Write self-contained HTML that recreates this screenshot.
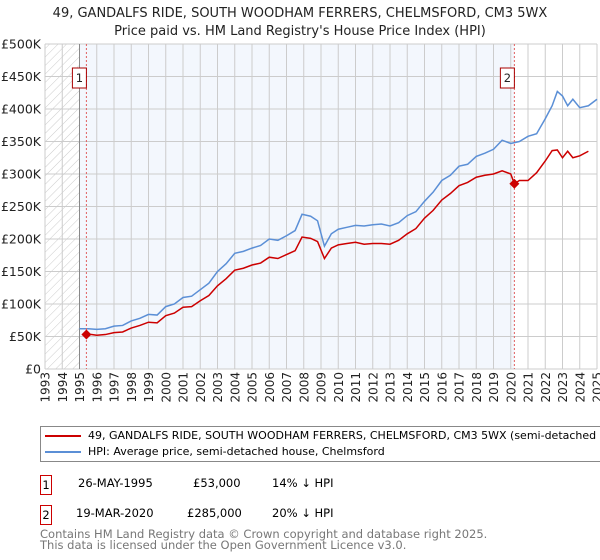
<!DOCTYPE html>
<html><head><meta charset="utf-8"><style>
body{margin:0;background:#fff;font-family:"DejaVu Sans","Liberation Sans",sans-serif;}
#wrap{position:relative;width:600px;height:560px;overflow:hidden;}
</style></head><body>
<div id="wrap">
<svg id="chart" width="600" height="420" style="position:absolute;left:0;top:0">
<text x="300" y="17" text-anchor="middle" font-size="13" fill="#222">49, GANDALFS RIDE, SOUTH WOODHAM FERRERS, CHELMSFORD, CM3 5WX</text>
<text x="300" y="35" text-anchor="middle" font-size="13" fill="#222">Price paid vs. HM Land Registry's House Price Index (HPI)</text>
<defs><pattern id="hatch" width="6" height="6" patternUnits="userSpaceOnUse" patternTransform="rotate(45)"><line x1="0" y1="0" x2="0" y2="6" stroke="#ccc" stroke-width="1"/></pattern></defs>
<g id="g"></g>
</svg>
<div style="position:absolute;left:40px;top:426px;width:600px;height:34px;border:1px solid #888;font-size:11px;">
<div style="position:absolute;left:4px;top:8px;width:36px;height:2px;background:#cc0000"></div>
<div style="position:absolute;left:47px;top:2px;white-space:nowrap">49, GANDALFS RIDE, SOUTH WOODHAM FERRERS, CHELMSFORD, CM3 5WX (semi-detached house)</div>
<div style="position:absolute;left:4px;top:24px;width:36px;height:2px;background:#5b8fd6"></div>
<div style="position:absolute;left:47px;top:18px;white-space:nowrap">HPI: Average price, semi-detached house, Chelmsford</div>
</div>
<div style="font-size:11.5px;">
<div style="position:absolute;left:40px;top:475px;width:10px;height:18px;border:1px solid #cc0000;text-align:center;line-height:18px">1</div>
<div style="position:absolute;left:78px;top:476px">26-MAY-1995</div>
<div style="position:absolute;left:193px;top:476px">£53,000</div>
<div style="position:absolute;left:272px;top:476px">14% ↓ HPI</div>
<div style="position:absolute;left:40px;top:505px;width:10px;height:18px;border:1px solid #cc0000;text-align:center;line-height:18px">2</div>
<div style="position:absolute;left:76px;top:506px">19-MAR-2020</div>
<div style="position:absolute;left:187px;top:506px">£285,000</div>
<div style="position:absolute;left:272px;top:506px">20% ↓ HPI</div>
</div>
<div style="position:absolute;left:40px;top:529px;font-size:11.5px;color:#777;line-height:11px">Contains HM Land Registry data © Crown copyright and database right 2025.<br>This data is licensed under the Open Government Licence v3.0.</div>
</div>
<script>
const years=[1993,1994,1995,1996,1997,1998,1999,2000,2001,2002,2003,2004,2005,2006,2007,2008,2009,2010,2011,2012,2013,2014,2015,2016,2017,2018,2019,2020,2021,2022,2023,2024,2025];
const yTicks=[0,50000,100000,150000,200000,250000,300000,350000,400000,450000,500000];
const yLabels=["£0","£50K","£100K","£150K","£200K","£250K","£300K","£350K","£400K","£450K","£500K"];
const hpiX=[1995.0,1995.5,1996.0,1996.5,1997.0,1997.5,1998.0,1998.5,1999.0,1999.5,2000.0,2000.5,2001.0,2001.5,2002.0,2002.5,2003.0,2003.5,2004.0,2004.5,2005.0,2005.5,2006.0,2006.5,2007.0,2007.5,2007.9,2008.4,2008.8,2009.2,2009.6,2010.0,2010.5,2011.0,2011.5,2012.0,2012.5,2013.0,2013.5,2014.0,2014.5,2015.0,2015.5,2016.0,2016.5,2017.0,2017.5,2018.0,2018.5,2019.0,2019.5,2020.0,2020.5,2021.0,2021.5,2022.0,2022.4,2022.7,2023.0,2023.3,2023.6,2024.0,2024.5,2025.0];
const hpiV=[62000,62000,61000,62000,66000,67000,74000,78000,84000,83000,96000,100000,110000,112000,122000,132000,150000,162000,178000,181000,186000,190000,200000,198000,205000,213000,238000,235000,228000,189000,208000,215000,218000,221000,220000,222000,223000,220000,225000,236000,242000,258000,272000,290000,298000,312000,315000,327000,332000,338000,352000,347000,350000,358000,362000,385000,405000,427000,420000,405000,415000,402000,405000,415000];
const ppX=[1995.4,1995.7,1996.0,1996.5,1997.0,1997.5,1998.0,1998.5,1999.0,1999.5,2000.0,2000.5,2001.0,2001.5,2002.0,2002.5,2003.0,2003.5,2004.0,2004.5,2005.0,2005.5,2006.0,2006.5,2007.0,2007.5,2007.9,2008.4,2008.8,2009.2,2009.6,2010.0,2010.5,2011.0,2011.5,2012.0,2012.5,2013.0,2013.5,2014.0,2014.5,2015.0,2015.5,2016.0,2016.5,2017.0,2017.5,2018.0,2018.5,2019.0,2019.5,2020.0,2020.21,2020.5,2021.0,2021.5,2022.0,2022.4,2022.7,2023.0,2023.3,2023.6,2024.0,2024.5,2025.0];
const ppV=[53000,53000,52000,53000,56000,57000,63000,67000,72000,71000,82000,86000,95000,96000,105000,113000,128000,139000,152000,155000,160000,163000,172000,170000,176000,182000,203000,201000,196000,170000,186000,191000,193000,195000,192000,193000,193000,192000,198000,208000,216000,232000,244000,260000,270000,282000,287000,295000,298000,300000,305000,300000,285000,290000,290000,302000,320000,336000,337000,325000,335000,325000,328000,335000];
const sales=[{x:1995.4,v:53000,l:"1"},{x:2020.21,v:285000,l:"2"}];
const X=y=>45+(y-1993)*17.25, Y=v=>369-v*0.00065;
const g=document.getElementById('g'),NS="http://www.w3.org/2000/svg";
function mk(t,a,p){const e=document.createElementNS(NS,t);for(const k in a)e.setAttribute(k,a[k]);(p||g).appendChild(e);return e;}
let r=mk('rect',{x:X(1995),y:Y(500000),width:X(2020.21)-X(1995),height:Y(0)-Y(500000),fill:'#eef3fc',opacity:0.7});


r=mk('rect',{x:X(1993),y:Y(500000),width:X(1995)-X(1993),height:Y(0)-Y(500000),fill:'url(#hatch)'});


years.forEach((yr,i)=>{
 const l=mk('line',{x1:X(yr),x2:X(yr),y1:Y(500000),y2:Y(0),stroke:'#ccc'});
 
 
 const t=mk('text',{x:0,y:0,transform:`translate(${X(yr)+4.5},${372}) rotate(-90)`,'text-anchor':'end','font-size':12,fill:'#222'});
 t.textContent=yr;
 
 
});
yTicks.forEach((v,i)=>{
 const l=mk('line',{x1:X(1993),x2:X(2025),y1:Y(v),y2:Y(v),stroke:'#ccc'});
 
 
 const t=mk('text',{x:41,y:Y(v)+4.5,'text-anchor':'end','font-size':12.5,fill:'#222'});
 t.textContent=yLabels[i];
 
 
});
let ax=mk('line',{x1:X(1995),x2:X(1995),y1:Y(500000),y2:Y(0),stroke:'#888'});


let hp=mk('polyline',{points:hpiX.map((x,i)=>X(x)+','+Y(hpiV[i])).join(' '),fill:'none',stroke:'#5b8fd6','stroke-width':1.5});


let pp=mk('polyline',{points:ppX.map((x,i)=>X(x)+','+Y(ppV[i])).join(' '),fill:'none',stroke:'#cc0000','stroke-width':1.5});


sales.forEach(s=>{
 const l=mk('line',{x1:X(s.x),x2:X(s.x),y1:Y(500000),y2:Y(0),stroke:'#e06060','stroke-dasharray':'2,2'});
 
 
 const cx=X(s.x),cy=Y(s.v);
 const d=mk('polygon',{points:`${cx},${cy-5} ${cx+5},${cy} ${cx},${cy+5} ${cx-5},${cy}`,fill:'#cc0000'});
 
 
 const b=mk('rect',{x:X(s.x)-14,y:68,width:14,height:20,fill:'#fff',stroke:'#aa0000'});
 
 
 const t=mk('text',{x:X(s.x)-7,y:82,'text-anchor':'middle','font-size':11.5,fill:'#222'});
 t.textContent=s.l;
 
 
});
</script>
</body></html>
